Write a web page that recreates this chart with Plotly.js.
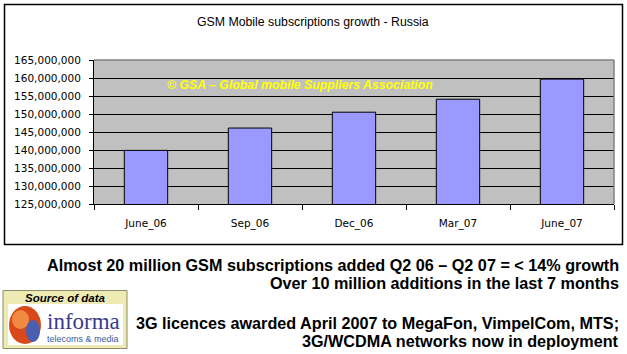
<!DOCTYPE html>
<html>
<head>
<meta charset="utf-8">
<script src="https://cdn.plot.ly/plotly-3.0.1.min.js"></script>
<style>
html,body{margin:0;padding:0;background:#fff;}
#chart{width:627px;height:354px;}
</style>
</head>
<body>
<div id="chart"></div>
<script>
// ---- data ----
const categories = ["June_06", "Sep_06", "Dec_06", "Mar_07", "June_07"];
const subscriptions = [139900000, 146100000, 150500000, 154100000, 159700000];
const yTickValues = [125000000, 130000000, 135000000, 140000000, 145000000, 150000000, 155000000, 160000000, 165000000];

const chartTitle = "GSM Mobile subscriptions growth - Russia";
const watermark = "© GSA – Global mobile Suppliers Association";
const notes = [
  "Almost 20 million GSM subscriptions added Q2 06 – Q2 07 = < 14% growth",
  "Over 10 million additions in the last 7 months",
  "3G licences awarded April 2007 to MegaFon, VimpelCom, MTS;",
  "3G/WCDMA networks now in deployment"
];

// ---- layout helpers (pixel -> paper) ----
const W = 627, H = 354;
const M = {l: 94, r: 13, t: 60, b: 150};
const PW = W - M.l - M.r, PH = H - M.t - M.b;
const px = x => (x - M.l) / PW;
const py = y => (H - M.b - y) / PH;

const font = "Arial, 'Liberation Sans', sans-serif";
const tickFont = "'DejaVu Sans', Arial, sans-serif";

const trace = {
  type: "bar",
  x: categories,
  y: subscriptions,
  marker: {color: "#9999ff", line: {color: "#000000", width: 1}},
  hoverinfo: "x+y"
};

const noteYs = [265, 283, 323, 341];
const annotations = [
  {text: chartTitle, x: px(313), y: py(22), xref: "paper", yref: "paper",
   showarrow: false, xanchor: "center", yanchor: "middle",
   font: {family: font, size: 12.3, color: "#000"}},
  {text: "<b><i>" + watermark + "</i></b>", x: px(165), y: py(85), xref: "paper", yref: "paper",
   showarrow: false, xanchor: "left", yanchor: "middle",
   font: {family: font, size: 12.3, color: "#ffff00"}},
  {text: "<i><b>Source of data</b></i>", x: px(65), y: py(298), xref: "paper", yref: "paper",
   showarrow: false, xanchor: "center", yanchor: "middle",
   font: {family: font, size: 11.5, color: "#000"}},
  {text: "informa", x: px(83), y: py(321), xref: "paper", yref: "paper",
   showarrow: false, xanchor: "center", yanchor: "middle",
   font: {family: "'Liberation Serif', 'DejaVu Serif', serif", size: 23, color: "#3a3a8e"}},
  {text: "telecoms &amp; media", x: px(83), y: py(339), xref: "paper", yref: "paper",
   showarrow: false, xanchor: "center", yanchor: "middle",
   font: {family: font, size: 9, color: "#3a5aa6"}}
];
notes.forEach((t, i) => {
  annotations.push({text: "<b>" + t + "</b>", x: px(621), y: py(noteYs[i]), xref: "paper", yref: "paper",
    showarrow: false, xanchor: "right", yanchor: "middle",
    font: {family: font, size: 16.2, color: "#000"}});
});

const shapes = [
  // chart outer border
  {type: "rect", xref: "paper", yref: "paper", x0: px(4.5), x1: px(622.5), y0: py(4.5), y1: py(244.5),
   line: {color: "#000", width: 1.5}, fillcolor: "rgba(0,0,0,0)", layer: "below"},
  // plot area top/right frame
  {type: "line", xref: "paper", yref: "paper", x0: 0, x1: 1, y0: 1, y1: 1, line: {color: "#808080", width: 1.5}},
  {type: "line", xref: "paper", yref: "paper", x0: 1, x1: 1, y0: 0, y1: 1, line: {color: "#808080", width: 1.5}},
  // logo
  {type: "rect", xref: "paper", yref: "paper", x0: px(3), x1: px(127), y0: py(290.5), y1: py(348.5),
   line: {color: "#8c8c6c", width: 1}, fillcolor: "#eeeab4"},
  {type: "rect", xref: "paper", yref: "paper", x0: px(8), x1: px(123), y0: py(304), y1: py(345),
   line: {width: 0}, fillcolor: "#ffffff"},
  {type: "circle", xref: "paper", yref: "paper", x0: px(9), x1: px(41), y0: py(306), y1: py(344),
   line: {width: 0}, fillcolor: "#d9481a"},
  {type: "circle", xref: "paper", yref: "paper", x0: px(12), x1: px(29), y0: py(310), y1: py(329),
   line: {width: 0}, fillcolor: "#f08a40"},
  {type: "circle", xref: "paper", yref: "paper", x0: px(26), x1: px(40), y0: py(320), y1: py(342),
   line: {width: 0}, fillcolor: "#4a5fb0"}
];

const layout = {
  width: W, height: H,
  margin: M,
  paper_bgcolor: "#ffffff",
  plot_bgcolor: "#c0c0c0",
  showlegend: false,
  bargap: 0.583,
  font: {family: font, size: 10, color: "#000"},
  xaxis: {
    type: "category",
    showline: true, linecolor: "#000", linewidth: 1,
    ticks: "outside", tickson: "boundaries", ticklen: 5, tickcolor: "#000",
    showgrid: false, zeroline: false,
    tickfont: {family: tickFont, size: 10.5, color: "#000"},
    ticklabelstandoff: 9,
    fixedrange: true
  },
  yaxis: {
    range: [125000000, 165000000],
    tickmode: "array", tickvals: yTickValues,
    tickformat: ",d",
    showline: true, linecolor: "#000", linewidth: 1,
    ticks: "outside", ticklen: 4, tickcolor: "#000",
    showgrid: true, gridcolor: "#000", gridwidth: 1,
    zeroline: false,
    tickfont: {family: tickFont, size: 10.5, color: "#000"},
    ticklabelstandoff: 6,
    fixedrange: true
  },
  annotations: annotations,
  shapes: shapes
};

Plotly.newPlot("chart", [trace], layout, {displayModeBar: false, staticPlot: true});
</script>
</body>
</html>
